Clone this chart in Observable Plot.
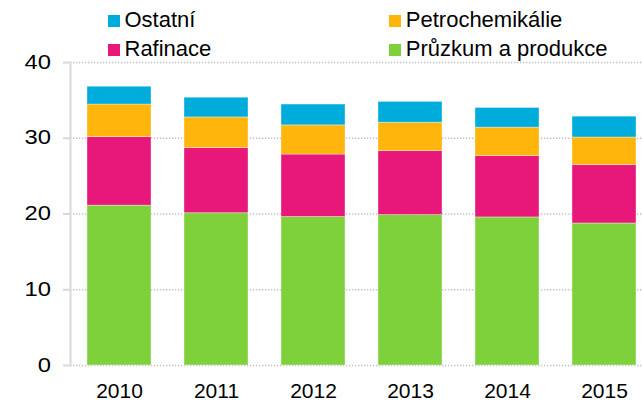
<!DOCTYPE html>
<html>
<head>
<meta charset="utf-8">
<script src="https://cdn.jsdelivr.net/npm/d3@7"></script>
<script src="https://cdn.jsdelivr.net/npm/@observablehq/plot@0.6"></script>
<style>
  html, body { margin: 0; padding: 0; background: #fff; }
  #wrap { position: relative; width: 642px; height: 401px; font-family: "Liberation Sans", Arial, sans-serif; }
  .item { position: absolute; font-size: 22px; line-height: 22px; color: #000; white-space: nowrap; }
  .sw { position: absolute; width: 12px; height: 12px; }
  svg { display: block; }
</style>
</head>
<body>
<div id="wrap"></div>
<script>
const years = ["2010", "2011", "2012", "2013", "2014", "2015"];
const seriesNames = ["Průzkum a produkce", "Rafinace", "Petrochemikálie", "Ostatní"];
const pruzkum = [21.1, 20.1, 19.6, 19.85, 19.55, 18.75];
const rafinace = [9.05, 8.6, 8.25, 8.45, 8.1, 7.7];
const petrochem = [4.3, 4.05, 3.85, 3.75, 3.75, 3.65];
const ostatni = [2.35, 2.6, 2.75, 2.75, 2.6, 2.75];
const colors = ["#7fd13b", "#e8187a", "#ffb50b", "#00acdc"];
const yTicks = [0, 10, 20, 30, 40];

const seriesValues = [pruzkum, rafinace, petrochem, ostatni];
const rows = [];
seriesNames.forEach((s, i) => years.forEach((yr, j) => rows.push({year: yr, series: s, value: seriesValues[i][j]})));

const yLabelAnchor = 70 - 7 - 12.6;

const chart = Plot.plot({
  width: 642,
  height: 401,
  marginTop: 62,
  marginBottom: 36,
  marginLeft: 70,
  marginRight: 0,
  style: {fontFamily: "Liberation Sans, Arial, sans-serif", fontSize: "20px", color: "#000", background: "#fff", overflow: "visible"},
  x: {domain: years, range: [53.6, 669.3], padding: 0.336, label: null},
  y: {domain: [0, 40], label: null},
  color: {domain: seriesNames, range: colors},
  marks: [
    Plot.gridY(yTicks, {stroke: "#bfbfbf", strokeOpacity: 1, strokeWidth: 1.3, strokeDasharray: "1.3,1.7"}),
    Plot.barY(rows, Plot.stackY({x: "year", y: "value", fill: "series", stroke: "white", strokeOpacity: 0.45, strokeWidth: 0.8})),
    Plot.frame({anchor: "left", stroke: "#d9d9d9", strokeWidth: 2}),
    Plot.axisY(yTicks, {tickSize: 7, tickPadding: 12.6, stroke: "#d9d9d9", strokeWidth: 2, fill: "#000", fontSize: 19.5, label: null}),
    Plot.axisX({tickSize: 0, tickPadding: 18, fill: "#000", fontSize: 21, label: null})
  ]
});

// the reference's y tick labels are drawn in a horizontally wider face
const yLab = chart.querySelector('g[aria-label="y-axis tick label"]');
if (yLab) {
  const prev = yLab.getAttribute("transform") || "";
  yLab.setAttribute("transform", `translate(${yLabelAnchor},0) scale(1.22,1) translate(${-yLabelAnchor},0) ${prev}`);
}

const wrap = document.getElementById("wrap");
wrap.appendChild(chart);

const legendItems = [
  {name: "Ostatní", color: colors[3], left: 108, baseline: 27.3},
  {name: "Petrochemikálie", color: colors[2], left: 389.3, baseline: 27.3},
  {name: "Rafinace", color: colors[1], left: 108, baseline: 56},
  {name: "Průzkum a produkce", color: colors[0], left: 389.3, baseline: 56}
];
// line-height 22px with 22px Liberation Sans: baseline ≈ top + 18.3
legendItems.forEach(it => {
  const sw = document.createElement("div");
  sw.className = "sw";
  sw.style.left = it.left + "px";
  sw.style.top = (it.baseline - 12.3) + "px";
  sw.style.background = it.color;
  wrap.appendChild(sw);
  const t = document.createElement("div");
  t.className = "item";
  t.style.left = (it.left + 16.5) + "px";
  t.style.top = (it.baseline - 18.3) + "px";
  t.textContent = it.name;
  wrap.appendChild(t);
});
</script>
</body>
</html>
